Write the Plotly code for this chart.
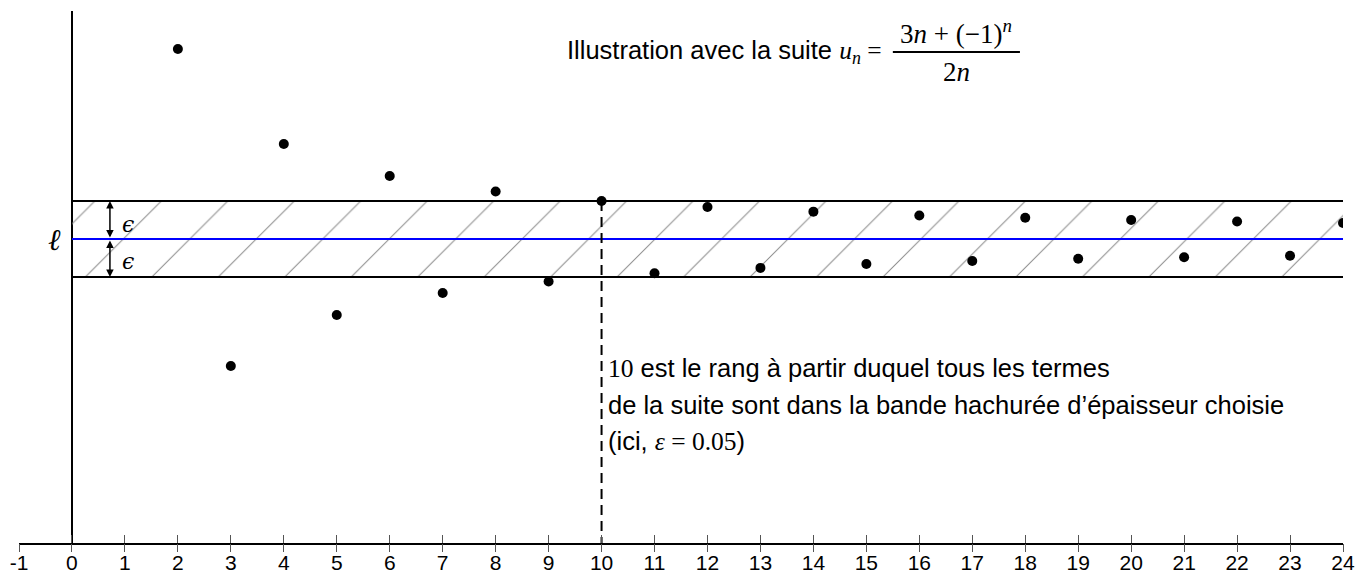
import plotly.graph_objects as go

# ---- data ----
n_values = list(range(2, 25))
u_values = [1.75, 1.333, 1.625, 1.4, 1.583, 1.429, 1.5625, 1.444, 1.55, 1.455,
            1.542, 1.462, 1.536, 1.467, 1.531, 1.471, 1.528, 1.474, 1.525, 1.476,
            1.523, 1.478, 1.521]
limit = 1.5
eps = 0.05
rank = 10
x_ticks = list(range(-1, 25))
x_min, x_max = -1, 24
y_min, y_max = 1.1, 1.8

SANS = "Liberation Sans, Arial, sans-serif"
SERIF = "Liberation Serif"

fig = go.Figure()

# hatched band
fig.add_trace(go.Scatter(
    x=[0, x_max, x_max, 0, 0],
    y=[limit - eps, limit - eps, limit + eps, limit + eps, limit - eps],
    mode="none", fill="toself",
    fillpattern=dict(shape="/", size=47, solidity=0.022, fgcolor="#8c8c8c",
                     bgcolor="rgba(0,0,0,0)", fillmode="replace"),
    hoverinfo="skip", showlegend=False))

# band borders and limit
for yv, col in [(limit + eps, "black"), (limit - eps, "black"), (limit, "#0000ff")]:
    fig.add_trace(go.Scatter(x=[0, x_max], y=[yv, yv], mode="lines",
                             line=dict(color=col, width=2), showlegend=False,
                             hoverinfo="skip"))

# dashed rank line
fig.add_trace(go.Scatter(x=[rank, rank], y=[limit + eps, y_min], mode="lines",
                         line=dict(color="black", width=2, dash="10px,6px"),
                         showlegend=False, hoverinfo="skip"))

# points
fig.add_trace(go.Scatter(x=n_values, y=u_values, mode="markers",
                         marker=dict(color="black", size=10), showlegend=False))

# second axis for lower tick halves
fig.add_trace(go.Scatter(x=[x_min], y=[y_min], xaxis="x2", mode="markers",
                         marker=dict(opacity=0), showlegend=False, hoverinfo="skip"))

annotations = []
# epsilon arrows
for y0, y1, ylab in [(limit, limit + eps, 1.519), (limit, limit - eps, 1.471)]:
    annotations.append(dict(x=0.717, y=y1, ax=0.717, ay=y0, xref="x", yref="y",
                            axref="x", ayref="y", text="", showarrow=True,
                            arrowhead=2, startarrowhead=2, arrowside="end+start",
                            arrowsize=1, arrowwidth=1.5, arrowcolor="black",
                            standoff=0, startstandoff=0))
    annotations.append(dict(x=1.06, y=ylab, xref="x", yref="y", text="<i>ϵ</i>",
                            showarrow=False, font=dict(family="DejaVu Serif", size=22, color="black")))
# ell
annotations.append(dict(x=-0.33, y=limit, xref="x", yref="y", text="<i>ℓ</i>",
                        showarrow=False, font=dict(family=SERIF, size=30, color="black")))
# title
annotations.append(dict(x=15.33, y=1.746, xref="x", yref="y", xanchor="right", yanchor="middle",
                        text='Illustration avec la suite <span style="font-family:Liberation Serif"><i>u</i><sub><i>n</i></sub> =</span>',
                        showarrow=False, font=dict(family=SANS, size=25.5, color="black")))
annotations.append(dict(x=16.7, y=1.773, xref="x", yref="y",
                        text="3<i>n</i> + (−1)<sup><i>n</i></sup>", showarrow=False,
                        font=dict(family=SERIF, size=27, color="black")))
annotations.append(dict(x=16.7, y=1.720, xref="x", yref="y",
                        text="2<i>n</i>", showarrow=False,
                        font=dict(family=SERIF, size=27, color="black")))
# explanation text
lines = ['<span style="font-family:Liberation Serif">10</span> est le rang à partir duquel tous les termes',
         'de la suite sont dans la bande hachurée d’épaisseur choisie',
         '(ici, <span style="font-family:Liberation Serif"><i>ε</i> = 0.05</span>)']
for i, t in enumerate(lines):
    annotations.append(dict(x=10.08, y=1.329 - i * 0.0474, xref="x", yref="y",
                            xanchor="left", yanchor="middle", text=t, showarrow=False,
                            font=dict(family=SANS, size=25.5, color="black")))

shapes = [dict(type="line", xref="x", yref="y", x0=15.50, x1=17.90, y0=1.746, y1=1.746,
               line=dict(color="black", width=2))]

fig.update_layout(
    width=1358, height=577,
    margin=dict(l=19, r=15, t=11, b=34, autoexpand=False),
    plot_bgcolor="white", paper_bgcolor="white",
    annotations=annotations, shapes=shapes,
    xaxis=dict(range=[x_min, x_max], tickvals=x_ticks, ticktext=[str(v) for v in x_ticks],
               showgrid=False, zeroline=True, zerolinecolor="black", zerolinewidth=2,
               showline=True, linecolor="black", linewidth=2, automargin=False,
               ticks="inside", ticklen=8, tickwidth=1, tickcolor="#555",
               tickfont=dict(family=SANS, size=21, color="black")),
    xaxis2=dict(range=[x_min, x_max], tickvals=x_ticks, overlaying="x", anchor="y",
                side="bottom", showgrid=False, zeroline=False, showline=False,
                ticks="outside", ticklen=8, tickwidth=1, tickcolor="#555",
                showticklabels=False, automargin=False),
    yaxis=dict(range=[y_min, y_max], showgrid=False, zeroline=False, showline=False,
               showticklabels=False, ticks="", automargin=False),
)

fig.write_html("out.html", config={"displayModeBar": False},
               post_script="document.body.style.margin='0';document.body.style.overflow='hidden';")
